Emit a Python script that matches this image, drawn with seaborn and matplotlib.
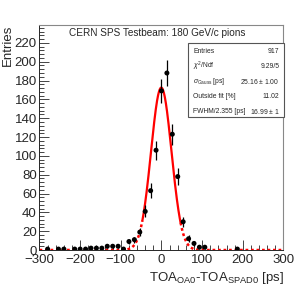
import numpy as np
import matplotlib
matplotlib.use("Agg")
import matplotlib.pyplot as plt
import seaborn as sns
from matplotlib.ticker import MultipleLocator

# histogram: 45 bins of 13.33 ps from -300 to 300 (only filled bins)
bin_idx = [1, 3, 4, 6, 7, 8, 9, 10, 11, 12, 13, 14, 15,
           16, 17, 18, 19, 20, 21, 22, 23, 24, 25, 26, 27, 28,
           29, 30, 36]
counts = [1, 1, 1, 1, 1, 1, 2, 2, 2, 4, 4, 4, 1,
          9, 11, 19, 41, 63, 106, 169, 188, 123, 78, 30, 12, 7,
          3, 3, 1]

# gaussian fit
fit_amp = 172.5
fit_mu = -0.5
fit_sigma = 25.16
fit_range = (-47.0, 47.0)

stats_names = ["Entries", r"$\chi^{2}$/Ndf", r"$\sigma_{\mathrm{Gauss}}$ [ps]",
               "Outside fit [%]", "FWHM/2.355 [ps]"]
stats_values = ["917", "9.29/5", r"25.16 $\pm$ 1.00", "11.02", r"16.99 $\pm$ 1"]

sns.set_style("ticks")
plt.rcParams['font.family'] = ['Liberation Sans', 'DejaVu Sans']
plt.rcParams['mathtext.fontset'] = 'custom'
plt.rcParams['mathtext.rm'] = 'Liberation Sans'
plt.rcParams['mathtext.it'] = 'Liberation Sans:italic'
plt.rcParams['mathtext.bf'] = 'Liberation Sans:bold'

fig = plt.figure(figsize=(2.99, 2.88), dpi=100)
ax = fig.add_axes([0.1321, 0.1319, 0.948 - 0.1321, 0.9132 - 0.1319])

width = 600 / 45
centers = np.array([-300 + width * (k + 0.5) for k in bin_idx])
cnt = np.array(counts, dtype=float)

def gaus(x):
    return fit_amp * np.exp(-0.5 * ((x - fit_mu) / fit_sigma) ** 2)

xl = np.linspace(-300, fit_range[0], 400)
xr = np.linspace(fit_range[1], 300, 400)
xm = np.linspace(fit_range[0], fit_range[1], 300)
ax.plot(xl, gaus(xl), color='red', lw=1.8, ls=(0, (1.1, 1.1)))
ax.plot(xr, gaus(xr), color='red', lw=1.8, ls=(0, (1.1, 1.1)))
sns.lineplot(x=xm, y=gaus(xm), color='red', lw=1.6, ax=ax)

ax.errorbar(centers, cnt, yerr=np.sqrt(cnt), fmt='none', ecolor='black',
            elinewidth=0.9, capsize=0, zorder=4)
sns.scatterplot(x=centers, y=cnt, color='black', s=13, edgecolor='none',
                ax=ax, zorder=5)

ax.set_xlim(-300, 300)
ax.set_ylim(0, 239)
ax.xaxis.set_major_locator(MultipleLocator(100))
ax.xaxis.set_minor_locator(MultipleLocator(20))
ax.yaxis.set_major_locator(MultipleLocator(20))
ax.yaxis.set_minor_locator(MultipleLocator(4))
ax.tick_params(which='major', direction='in', length=7, width=0.6,
               labelsize=9.5, pad=2)
ax.tick_params(axis='x', which='major', pad=3)
ax.tick_params(which='minor', direction='in', length=3.5, width=0.6)
ax.tick_params(top=False, right=False)
for s in ['left', 'bottom']:
    ax.spines[s].set_linewidth(0.7)
for s in ['top', 'right']:
    ax.spines[s].set_linewidth(0.8)
    ax.spines[s].set_color('#888888')
ax.set_xlabel('')
ax.set_ylabel('')

fig.text(0.027, 0.9132, 'Entries', rotation=90, ha='center', va='top',
         fontsize=9.5)
fig.text(0.948, 0.0253, r'TOA$_{\mathrm{OA0}}$-TOA$_{\mathrm{SPAD0}}$ [ps]',
         ha='right', va='baseline', fontsize=9.5)
fig.text(0.527, 0.885, 'CERN SPS Testbeam: 180 GeV/c pions',
         ha='center', va='center', fontsize=7.2)

# stats box
bx0, bx1 = 188.3 / 299, 283.5 / 299
by0, by1 = 1 - 117.3 / 288, 1 - 43.3 / 288
rect = plt.Rectangle((bx0, by0), bx1 - bx0, by1 - by0, transform=fig.transFigure,
                     facecolor='white', edgecolor='#555555', lw=0.8, zorder=10)
fig.patches.append(rect)
rows_y = [51.5, 66.5, 81.5, 96.5, 111.5]
for name, val, yy in zip(stats_names, stats_values, rows_y):
    fig.text(193.3 / 299, 1 - yy / 288, name, ha='left', va='center',
             fontsize=4.9, zorder=11)
    fig.text(279.5 / 299, 1 - yy / 288, val, ha='right', va='center',
             fontsize=4.9, zorder=11)

fig.savefig('out.png', dpi=100)
